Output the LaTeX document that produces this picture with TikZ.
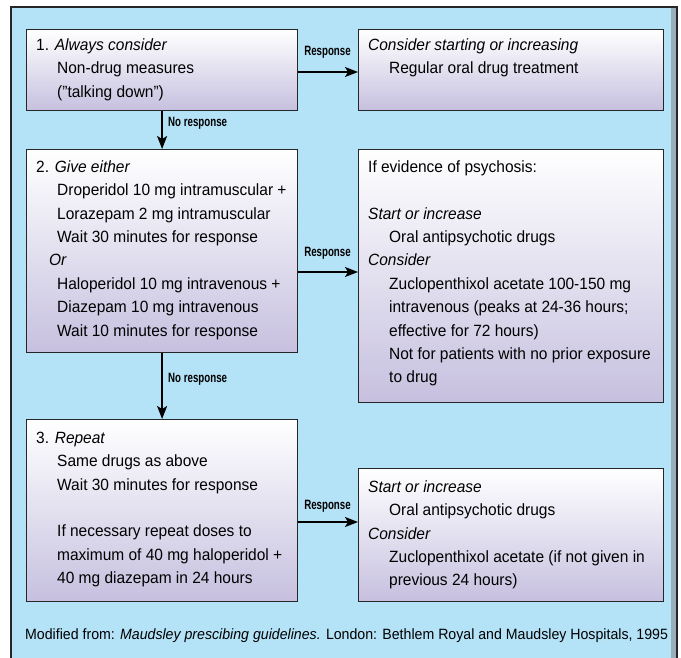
\documentclass[tikz,border=0pt]{standalone}
\usepackage{fontspec}
\setmainfont{Liberation Sans}[FakeStretch=0.95]
\newfontfamily\lblfont{Liberation Sans}[FakeStretch=0.72]
\usetikzlibrary{arrows.meta}

\definecolor{bgblue}{HTML}{B4E3F8}
\definecolor{boxbot}{HTML}{C6C0DF}
\definecolor{shadowgray}{HTML}{98AEBB}

\newcommand{\fl}{\rule{0pt}{12pt}}
\newcommand{\ind}{\hspace*{21pt}}

\tikzset{
  flowbox/.style={draw=black!85, line width=1.2pt, top color=white, bottom color=boxbot,
                  anchor=north west, inner sep=0pt},
  boxtext/.style={anchor=north west, inner sep=0pt, align=left,
                  font=\fontsize{16.3}{23.4}\selectfont},
  arr/.style={line width=1.8pt, -{Stealth[length=13pt,width=10pt,inset=3pt]}},
  lbl/.style={font=\lblfont\bfseries\fontsize{13.5}{15}\selectfont, inner sep=0pt},
}

\begin{document}
\begin{tikzpicture}[x=1pt,y=-1pt]
\useasboundingbox (0,0) rectangle (681,657);
% frame
\path[fill=white] (0,0) rectangle (681,657);
\path[fill=bgblue] (11,7) rectangle (677,668);
\path[fill=shadowgray] (671,7) rectangle (677,668);
\draw[line width=1.3pt, black!85] (11,668) -- (11,7) -- (677,7) -- (677,668);

% boxes
\node[flowbox, minimum width=271pt, minimum height=81pt]  (b1) at (26,29)  {};
\node[flowbox, minimum width=305pt, minimum height=81pt]  (r1) at (358,29) {};
\node[flowbox, minimum width=271pt, minimum height=203pt] (b2) at (26,149) {};
\node[flowbox, minimum width=305pt, minimum height=253pt] (r2) at (358,149) {};
\node[flowbox, minimum width=271pt, minimum height=182pt] (b3) at (26,419) {};
\node[flowbox, minimum width=305pt, minimum height=133pt] (r3) at (358,468) {};

% texts
\node[boxtext] (t1) at (36,38) {\fl 1. \textit{Always consider}\\
\ind Non-drug measures\\
\ind ("talking down")};

\node[boxtext] (tr1) at (368,38) {\fl\textit{Consider starting or increasing}\\
\ind Regular oral drug treatment};

\node[boxtext] (t2) at (36,160) {\fl 2. \textit{Give either}\\
\ind Droperidol 10 mg intramuscular +\\
\ind Lorazepam 2 mg intramuscular\\
\ind Wait 30 minutes for response\\
\hspace*{13pt}\textit{Or}\\
\ind Haloperidol 10 mg intravenous +\\
\ind Diazepam 10 mg intravenous\\
\ind Wait 10 minutes for response};

\node[boxtext] (tr2) at (368,160) {\fl If evidence of psychosis:\\[23.4pt]
\textit{Start or increase}\\
\ind Oral antipsychotic drugs\\
\textit{Consider}\\
\ind Zuclopenthixol acetate 100-150 mg\\
\ind intravenous (peaks at 24-36 hours;\\
\ind effective for 72 hours)\\
\ind Not for patients with no prior exposure\\
\ind to drug};

\node[boxtext] (t3) at (36,431) {\fl 3. \textit{Repeat}\\
\ind Same drugs as above\\
\ind Wait 30 minutes for response\\[23.4pt]
\ind If necessary repeat doses to\\
\ind maximum of 40 mg haloperidol +\\
\ind 40 mg diazepam in 24 hours};

\node[boxtext] (tr3) at (368,480) {\fl\textit{Start or increase}\\
\ind Oral antipsychotic drugs\\
\textit{Consider}\\
\ind Zuclopenthixol acetate (if not given in\\
\ind previous 24 hours)};

% arrows
\coordinate (y1) at (0,72);
\coordinate (y2) at (0,272);
\coordinate (y3) at (0,522);
\draw[arr] (b1.south) -- (b2.north);
\draw[arr] (b2.south) -- (b3.north);
\draw[arr] (b1.east |- y1) -- (r1.west |- y1);
\draw[arr] (b2.east |- y2) -- (r2.west |- y2);
\draw[arr] (b3.east |- y3) -- (r3.west |- y3);

% labels
\node[lbl] (l1) at (327.5,52) {Response};
\node[lbl] (l2) at (327.5,253) {Response};
\node[lbl] (l3) at (327.5,506) {Response};
\node[lbl, anchor=west] (n1) at (168,123) {No response};
\node[lbl, anchor=west] (n2) at (168,379) {No response};

% footer
\node[anchor=base west, inner sep=0pt, font=\fontsize{14.9}{16}\selectfont] (foot) at (25,639)
  {Modified from: \textit{Maudsley prescibing guidelines.} London: Bethlem Royal and Maudsley Hospitals, 1995};
\end{tikzpicture}
\end{document}
